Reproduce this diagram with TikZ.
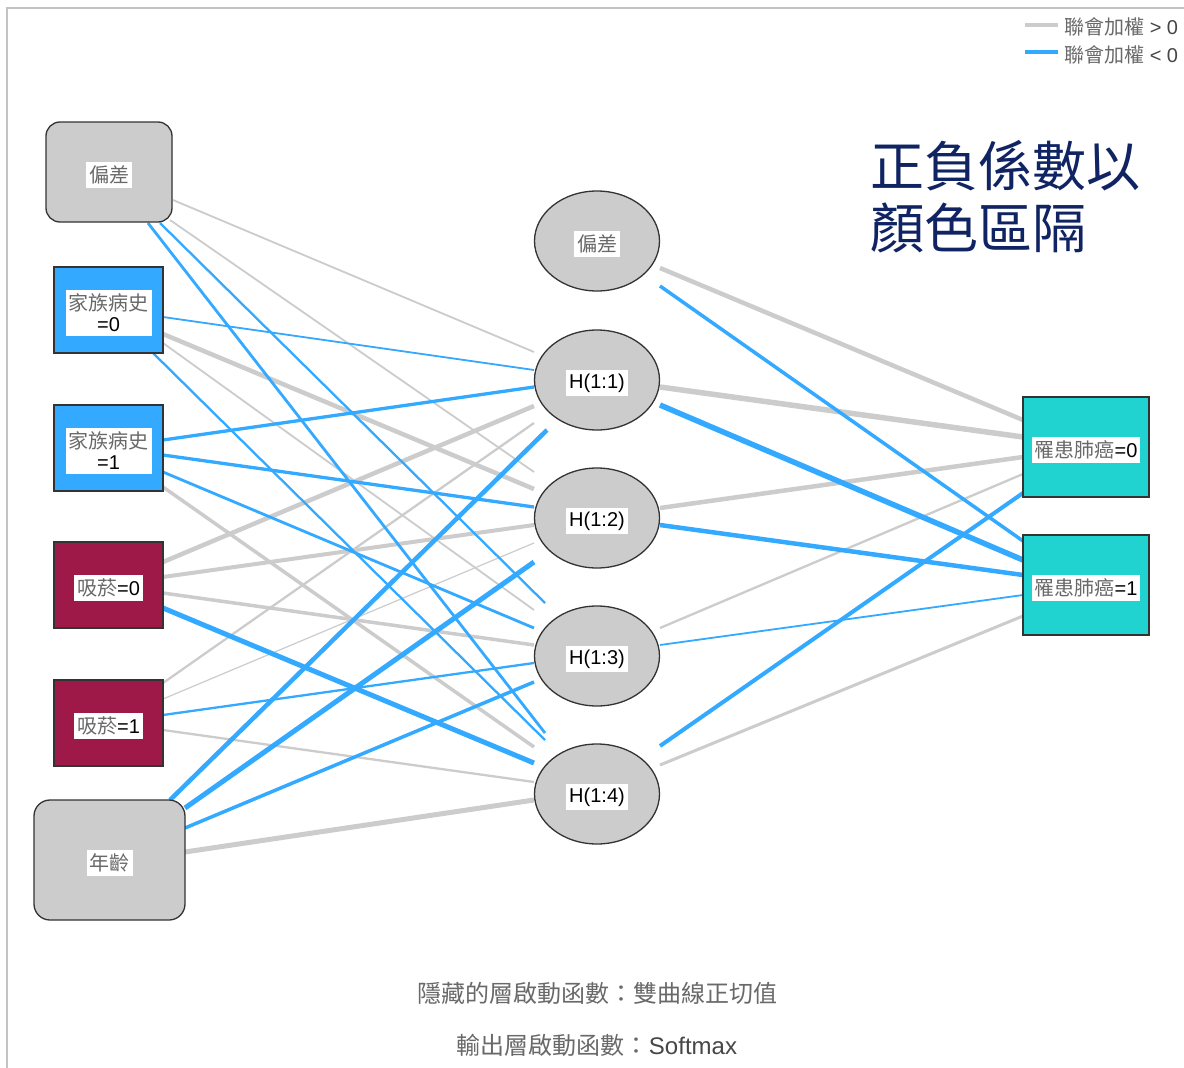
\documentclass[tikz,border=0pt]{standalone}
\usepackage{fontspec}
\setmainfont{Liberation Sans}
\newfontfamily\cjk{Noto Sans CJK TC}
\usetikzlibrary{shapes.geometric}
\definecolor{posg}{RGB}{204,204,204}
\definecolor{negb}{RGB}{51,170,255}
\definecolor{nodeg}{RGB}{204,204,204}
\definecolor{inblue}{RGB}{51,170,255}
\definecolor{smokered}{RGB}{158,24,72}
\definecolor{outteal}{RGB}{32,211,208}
\definecolor{titlenavy}{RGB}{16,36,100}
\definecolor{framegray}{RGB}{195,195,195}
\definecolor{txtc}{RGB}{70,70,70}
\definecolor{cjkc}{RGB}{105,105,105}
\newcommand{\cj}[1]{{\cjk\color{cjkc}#1}}
\pgfdeclarelayer{edges}
\pgfsetlayers{edges,main}
\begin{document}
\begin{tikzpicture}[x=1pt,y=-1pt,
  poswt/.style={draw=posg},
  negwt/.style={draw=negb},
  bordered/.style={draw=black!80, line width=1.3pt},
  biasbox/.style={bordered, fill=nodeg, rounded corners=14pt, minimum width=126pt, minimum height=100pt},
  agebox/.style={bordered, fill=nodeg, rounded corners=16pt, minimum width=151pt, minimum height=120pt},
  catbox/.style={bordered, minimum width=109pt, minimum height=86pt},
  outbox/.style={bordered, fill=outteal, minimum width=126pt, minimum height=100pt},
  hid/.style={bordered, ellipse, fill=nodeg, minimum width=125pt, minimum height=100pt, inner sep=0pt},
  lab/.style={fill=white, inner xsep=3pt, inner ysep=4pt, yshift=-3pt, font=\fontsize{20}{21}\selectfont, align=center, text=black},
]
\useasboundingbox (0,0) rectangle (1184,1068);

% input layer
\node[biasbox] (I0) at (109,172) {};
\node[catbox, fill=inblue] (I1) at (108.5,310) {};
\node[catbox, fill=inblue] (I2) at (108.5,448) {};
\node[catbox, fill=smokered] (I3) at (108.5,585) {};
\node[catbox, fill=smokered] (I4) at (108.5,723) {};
\node[agebox] (I5) at (109.5,860) {};
\node[lab] (I0l) at (I0) {\cj{偏差}};
\node[lab] (I1l) at (I1) {\cj{家族病史}\\=0};
\node[lab] (I2l) at (I2) {\cj{家族病史}\\=1};
\node[lab] (I3l) at (I3) {\cj{吸菸}=0};
\node[lab] (I4l) at (I4) {\cj{吸菸}=1};
\node[lab] (I5l) at (I5) {\cj{年齡}};

% hidden layer
\node[hid] (Hb) at (597,241) {};
\node[hid] (H1) at (597,380) {};
\node[hid] (H2) at (597,518) {};
\node[hid] (H3) at (597,656) {};
\node[hid] (H4) at (597,794) {};
\node[lab] (Hbl) at (Hb) {\cj{偏差}};
\node[lab] (H1l) at (H1) {H(1:1)};
\node[lab] (H2l) at (H2) {H(1:2)};
\node[lab] (H3l) at (H3) {H(1:3)};
\node[lab] (H4l) at (H4) {H(1:4)};

% output layer
\node[outbox] (O0) at (1086,447) {};
\node[outbox] (O1) at (1086,585) {};
\node[lab] (O0l) at (O0) {\cj{罹患肺癌}=0};
\node[lab] (O1l) at (O1) {\cj{罹患肺癌}=1};

\begin{pgfonlayer}{edges}
\fill[white] (0,0) rectangle (1184,1068);
\draw[framegray, line width=2.5pt] (7,1068) -- (7,8) -- (1184,8);
% positive (gray)
\draw[poswt, line width=1.8pt] ([shift={(64,28)}]I0.center) -- ([shift={(-63,-28)}]H1.center);
\draw[poswt, line width=1.8pt] ([shift={(61,48)}]I0.center) -- ([shift={(-63,-46)}]H2.center);
\draw[poswt, line width=4.5pt] ([shift={(54.5,24)}]I1.center) -- ([shift={(-63,-29)}]H2.center);
\draw[poswt, line width=1.8pt] ([shift={(54.5,33)}]I1.center) -- ([shift={(-63,-46)}]H3.center);
\draw[poswt, line width=3.5pt] ([shift={(54.5,39)}]I2.center) -- ([shift={(-63,-47)}]H4.center);
\draw[poswt, line width=4.5pt] ([shift={(54.5,-23)}]I3.center) -- ([shift={(-63,26)}]H1.center);
\draw[poswt, line width=4pt] ([shift={(54.5,-8)}]I3.center) -- ([shift={(-63,7)}]H2.center);
\draw[poswt, line width=3.5pt] ([shift={(54.5,8)}]I3.center) -- ([shift={(-63,-11)}]H3.center);
\draw[poswt, line width=2.3pt] ([shift={(54.5,-40)}]I4.center) -- ([shift={(-63,43)}]H1.center);
\draw[poswt, line width=1.2pt] ([shift={(54.5,-24)}]I4.center) -- ([shift={(-63,25)}]H2.center);
\draw[poswt, line width=2.3pt] ([shift={(54.5,7)}]I4.center) -- ([shift={(-63,-12)}]H4.center);
\draw[poswt, line width=5pt] ([shift={(75.5,-8)}]I5.center) -- ([shift={(-63,6)}]H4.center);
\draw[poswt, line width=4.5pt] ([shift={(63,27)}]Hb.center) -- ([shift={(-63,-27)}]O0.center);
\draw[poswt, line width=5.5pt] ([shift={(63,7)}]H1.center) -- ([shift={(-63,-10)}]O0.center);
\draw[poswt, line width=4.5pt] ([shift={(63,-10)}]H2.center) -- ([shift={(-63,10)}]O0.center);
\draw[poswt, line width=2.3pt] ([shift={(63,-28)}]H3.center) -- ([shift={(-63,27)}]O0.center);
\draw[poswt, line width=3pt] ([shift={(63,-29)}]H4.center) -- ([shift={(-63,31)}]O1.center);
% negative (blue)
\draw[negwt, line width=2.3pt] ([shift={(51,51)}]I0.center) -- ([shift={(-52,-53)}]H3.center);
\draw[negwt, line width=2.8pt] ([shift={(39,51)}]I0.center) -- ([shift={(-52,-61)}]H4.center);
\draw[negwt, line width=1.8pt] ([shift={(54.5,7)}]I1.center) -- ([shift={(-63,-10)}]H1.center);
\draw[negwt, line width=2.3pt] ([shift={(44.5,43)}]I1.center) -- ([shift={(-52,-54)}]H4.center);
\draw[negwt, line width=3.3pt] ([shift={(54.5,-8)}]I2.center) -- ([shift={(-63,7)}]H1.center);
\draw[negwt, line width=3.3pt] ([shift={(54.5,7)}]I2.center) -- ([shift={(-63,-11)}]H2.center);
\draw[negwt, line width=2.8pt] ([shift={(54.5,24)}]I2.center) -- ([shift={(-63,-28)}]H3.center);
\draw[negwt, line width=5pt] ([shift={(54.5,23)}]I3.center) -- ([shift={(-63,-31)}]H4.center);
\draw[negwt, line width=2.3pt] ([shift={(54.5,-8)}]I4.center) -- ([shift={(-63,7)}]H3.center);
\draw[negwt, line width=4.5pt] ([shift={(60.5,-60)}]I5.center) -- ([shift={(-50,50)}]H1.center);
\draw[negwt, line width=5pt] ([shift={(75.5,-52)}]I5.center) -- ([shift={(-63,44)}]H2.center);
\draw[negwt, line width=3.5pt] ([shift={(75.5,-32)}]I5.center) -- ([shift={(-63,26)}]H3.center);
\draw[negwt, line width=3.5pt] ([shift={(63,45)}]Hb.center) -- ([shift={(-63,-44)}]O1.center);
\draw[negwt, line width=5.5pt] ([shift={(63,25)}]H1.center) -- ([shift={(-63,-25)}]O1.center);
\draw[negwt, line width=4.5pt] ([shift={(63,7)}]H2.center) -- ([shift={(-63,-10)}]O1.center);
\draw[negwt, line width=1.8pt] ([shift={(63,-11)}]H3.center) -- ([shift={(-63,10)}]O1.center);
\draw[negwt, line width=4pt] ([shift={(63,-48)}]H4.center) -- ([shift={(-63,46)}]O0.center);
\end{pgfonlayer}

% legend
\coordinate (lg1a) at (1025,25);
\coordinate (lg1b) at (1058,25);
\coordinate (lg2a) at (1025,52);
\coordinate (lg2b) at (1058,52);
\draw[poswt, line width=4pt] (lg1a) -- (lg1b);
\draw[negwt, line width=4pt] (lg2a) -- (lg2b);
\node[anchor=west, inner sep=0pt, font=\fontsize{20}{22}\selectfont, text=txtc] (lgt1) at (1064,27) {\cj{聯會加權} > 0};
\node[anchor=west, inner sep=0pt, font=\fontsize{20}{22}\selectfont, text=txtc] (lgt2) at (1064,55) {\cj{聯會加權} < 0};

% title
\node[anchor=base west, inner sep=0pt, align=left, text=titlenavy, font=\cjk\fontsize{54}{62}\selectfont] (title) at (870,248) {正負係數以\\顏色區隔};

% footer
\node[inner sep=0pt, font=\fontsize{24}{28}\selectfont, text=txtc] (fn1) at (597,993) {\cj{隱藏的層啟動函數：雙曲線正切值}};
\node[inner sep=0pt, font=\fontsize{24}{28}\selectfont, text=txtc] (fn2) at (597,1045) {\cj{輸出層啟動函數：}Softmax};
\end{tikzpicture}
\end{document}
